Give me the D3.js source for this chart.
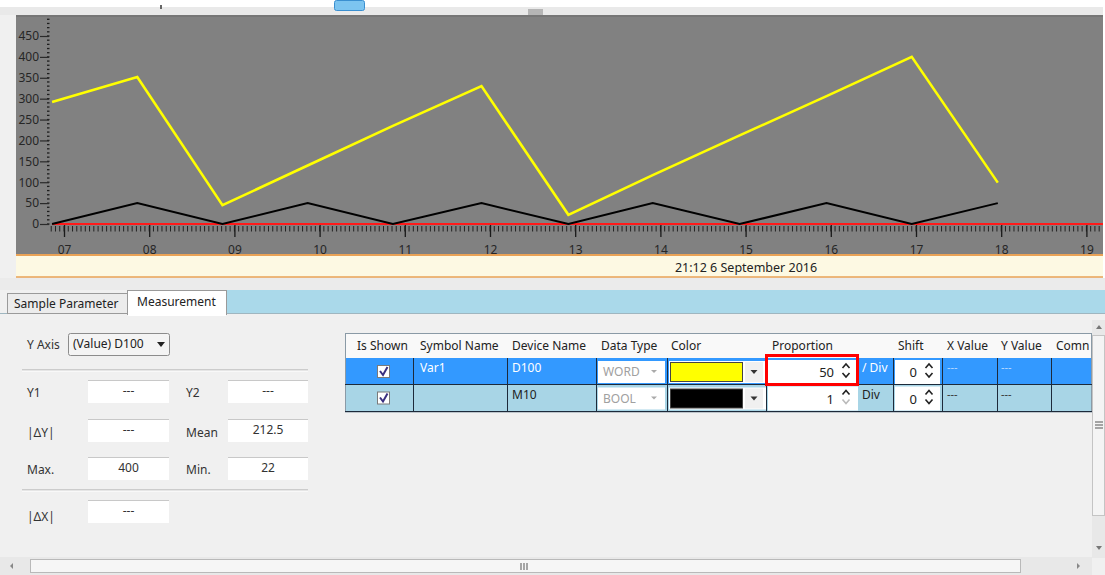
<!DOCTYPE html>
<html><head><meta charset="utf-8">
<script src="https://cdn.jsdelivr.net/npm/d3@7"></script>
<style>
html,body{margin:0;padding:0;background:#fff;overflow:hidden}
svg{display:block;font-family:"Noto Sans","Open Sans",sans-serif}
</style></head><body>
<svg id="c" width="1105" height="575"></svg>
<script>
// ---- data ----
const sampleSeconds = [6.86, 7.86, 8.86, 9.86, 10.86, 11.90, 12.92, 13.91, 14.93, 15.95, 16.95, 17.96]; // seconds after 21:12
const d100Values = [292, 352, 45, 140, 235, 330, 22, 117, 212, 306, 400, 99];
const m10Values = [0, 1, 0, 1, 0, 1, 0, 1, 0, 1, 0, 1];
const yTickValues = [0, 50, 100, 150, 200, 250, 300, 350, 400, 450];
const xTickSeconds = [7, 8, 9, 10, 11, 12, 13, 14, 15, 16, 17, 18, 19];
const xTickLabels = ["07", "08", "09", "10", "11", "12", "13", "14", "15", "16", "17", "18", "19"];
const dateLabel = "21:12 6 September 2016";
const tabLabels = ["Sample Parameter", "Measurement"];
const tableHeaders = ["Is Shown", "Symbol Name", "Device Name", "Data Type", "Color", "Proportion", "Shift", "X Value", "Y Value", "Comn"];
const symbolNames = ["Var1", ""];
const deviceNames = ["D100", "M10"];
const dataTypes = ["WORD", "BOOL"];
const seriesColors = ["#ffff00", "#000000"];
const proportions = [50, 1];
const proportionUnits = ["/ Div", "Div"];
const shifts = [0, 0];
const xValues = ["---", "---"];
const yValues = ["---", "---"];
const yAxisChoice = "(Value) D100";
const measureRows = [
  ["Y1", "---", "Y2", "---"],
  ["|\u0394Y|", "---", "Mean", "212.5"],
  ["Max.", "400", "Min.", "22"]
];
const deltaXRow = ["|\u0394X|", "---"];

// ---- drawing ----
const svg = d3.select("#c");
const FONT = 12;

// page backgrounds
svg.append("rect").attr("x",0).attr("y",0).attr("width",1105).attr("height",575).attr("fill","#f0f0f0");
svg.append("rect").attr("x",0).attr("y",0).attr("width",1105).attr("height",7).attr("fill","#ffffff");
svg.append("rect").attr("x",0).attr("y",7).attr("width",1105).attr("height",8).attr("fill","#e9e9e9");
svg.append("rect").attr("x",1103).attr("y",7).attr("width",2).attr("height",283).attr("fill","#ffffff");
// toolbar bits
svg.append("rect").attr("x",160).attr("y",5).attr("width",2).attr("height",4).attr("fill","#666");
svg.append("rect").attr("x",334.5).attr("y",0.5).attr("width",30).attr("height",10).attr("rx",2)
  .attr("fill","#7cc4f0").attr("stroke","#3a8fd0");
svg.append("rect").attr("x",528).attr("y",9).attr("width",15).attr("height",6).attr("fill","#b5b5b5");

// plot panel
const plotL = 16, plotR = 1103, plotT = 15, plotB = 254;
svg.append("rect").attr("x",plotL).attr("y",plotT).attr("width",plotR-plotL).attr("height",plotB-plotT).attr("fill","#818181");
svg.append("rect").attr("x",plotL).attr("y",plotT).attr("width",plotR-plotL).attr("height",2).attr("fill","#767676");

const x = d3.scaleLinear().domain([7, 19]).range([64, 1086.4]);
const y = d3.scaleLinear().domain([0, 450]).range([224, 36]);

// y axis: minor dots + major ticks
const yMinor = d3.range(0, 500, 10).filter(v => y(v) >= 17);
svg.append("g").selectAll("line").data(yMinor).join("line")
  .attr("x1",47).attr("x2",49.5).attr("y1",d=>y(d)).attr("y2",d=>y(d))
  .attr("stroke","#1e1e1e").attr("stroke-width",1.3);
const yAxisG = svg.append("g").attr("transform","translate(49,0)")
  .call(d3.axisLeft(y).tickValues(yTickValues).tickSize(9).tickPadding(1).tickFormat(d3.format("d")));
yAxisG.select(".domain").remove();
yAxisG.selectAll(".tick line").attr("stroke","#2a2a2a").attr("stroke-width",1.2);
yAxisG.selectAll(".tick text").attr("fill","#262626").attr("font-size",FONT).attr("font-family","Noto Sans, sans-serif");

// x axis minor ticks
const xMinor = d3.range(6.4, 19.3, 0.05).filter(s => x(s) >= 51 && x(s) <= plotR - 1);
svg.append("g").selectAll("line").data(xMinor).join("line")
  .attr("x1",d=>x(d)).attr("x2",d=>x(d)).attr("y1",226).attr("y2",231.5)
  .attr("stroke","#222").attr("stroke-width",1);
const xAxisG = svg.append("g").attr("transform","translate(0,225)")
  .call(d3.axisBottom(x).tickValues(xTickSeconds).tickSize(12).tickPadding(8)
    .tickFormat((d,i) => xTickLabels[i]));
xAxisG.select(".domain").remove();
xAxisG.selectAll(".tick line").attr("stroke","#1a1a1a").attr("stroke-width",1.3);
xAxisG.selectAll(".tick text").attr("fill","#262626").attr("font-size",FONT).attr("font-family","Noto Sans, sans-serif");

// red zero line
svg.append("line").attr("x1",52).attr("x2",plotR).attr("y1",y(0)).attr("y2",y(0))
  .attr("stroke","#ff1a1a").attr("stroke-width",2);

// series
const pts = sampleSeconds.map((s,i) => ({s, d:d100Values[i], m:m10Values[i] * proportions[0] / proportions[1]}));
const lineM = d3.line().x(p=>x(p.s)).y(p=>y(p.m));
const lineD = d3.line().x(p=>x(p.s)).y(p=>y(p.d));
svg.append("path").attr("d",lineM(pts)).attr("fill","none").attr("stroke",seriesColors[1]).attr("stroke-width",2).attr("stroke-linejoin","miter");
svg.append("path").attr("d",lineD(pts)).attr("fill","none").attr("stroke",seriesColors[0]).attr("stroke-width",2.6).attr("stroke-linejoin","miter");

// date band
svg.append("rect").attr("x",plotL).attr("y",254).attr("width",plotR-plotL).attr("height",23).attr("fill","#fdf9e3");
svg.append("line").attr("x1",plotL).attr("x2",plotR).attr("y1",255).attr("y2",255).attr("stroke","#e9a256").attr("stroke-width",2);
svg.append("line").attr("x1",plotL).attr("x2",plotR).attr("y1",277).attr("y2",277).attr("stroke","#e9a256").attr("stroke-width",1.5);
svg.append("text").attr("x",746).attr("y",271.5).attr("text-anchor","middle").attr("font-size",12.5).attr("fill","#222").text(dateLabel);

// tabs row
svg.append("rect").attr("x",0).attr("y",278).attr("width",1105).attr("height",12).attr("fill","#ebebeb");
svg.append("rect").attr("x",226).attr("y",290).attr("width",879).attr("height",23).attr("fill","#aad9ea");
svg.append("line").attr("x1",0).attr("x2",1105).attr("y1",313.5).attr("y2",313.5).attr("stroke","#9fb6c0");
svg.append("rect").attr("x",7.5).attr("y",293.5).attr("width",120).attr("height",20).attr("fill","#ececec").attr("stroke","#9a9a9a");
svg.append("rect").attr("x",127.5).attr("y",290.5).attr("width",99).attr("height",24).attr("fill","#ffffff").attr("stroke","#9a9a9a");
svg.append("rect").attr("x",128).attr("y",313).attr("width",98).attr("height",3).attr("fill","#ffffff");
svg.append("text").attr("x",14).attr("y",308).attr("font-size",12).attr("fill","#222").text(tabLabels[0]);
svg.append("text").attr("x",137).attr("y",306).attr("font-size",12).attr("fill","#222").text(tabLabels[1]);

// left measurement panel
svg.append("text").attr("x",27).attr("y",349).attr("font-size",12).attr("fill","#333").text("Y Axis");
svg.append("rect").attr("x",68.5).attr("y",333.5).attr("width",101).attr("height",22).attr("rx",2).attr("fill","#f4f4f4").attr("stroke","#8c8c8c");
svg.append("text").attr("x",73).attr("y",348).attr("font-size",12).attr("fill","#222").text(yAxisChoice);
svg.append("path").attr("d","M157,342 L165,342 L161,347 Z").attr("fill","#222");
function sep(yy){
  svg.append("line").attr("x1",22).attr("x2",308).attr("y1",yy).attr("y2",yy).attr("stroke","#a8a8a8");
  svg.append("line").attr("x1",22).attr("x2",308).attr("y1",yy+1).attr("y2",yy+1).attr("stroke","#fff");
}
sep(370); sep(490);
function field(bx, by, w, val){
  svg.append("rect").attr("x",bx).attr("y",by).attr("width",w).attr("height",23).attr("fill","#ffffff");
  svg.append("line").attr("x1",bx).attr("x2",bx+w).attr("y1",by+0.5).attr("y2",by+0.5).attr("stroke","#c8c8c8");
  svg.append("text").attr("x",bx+w/2).attr("y",by+15).attr("text-anchor","middle").attr("font-size",12).attr("fill","#333").text(val);
}
const rowY = [380, 419, 457];
const labY = [397, 437, 474];
measureRows.forEach((r,i)=>{
  svg.append("text").attr("x",27).attr("y",labY[i]).attr("font-size",12).attr("fill","#333").text(r[0]);
  field(88, rowY[i], 81, r[1]);
  svg.append("text").attr("x",186).attr("y",labY[i]).attr("font-size",12).attr("fill","#333").text(r[2]);
  field(228, rowY[i], 80, r[3]);
});
svg.append("text").attr("x",27).attr("y",521).attr("font-size",12).attr("fill","#333").text(deltaXRow[0]);
field(88, 500, 81, deltaXRow[1]);

// table
const colX = [345, 413, 507, 596, 667, 766, 893, 942, 997, 1051, 1092];
const tTop = 333, hdrB = 358, r1B = 384.5, r2B = 411.5;
svg.append("rect").attr("x",345).attr("y",tTop).attr("width",747).attr("height",hdrB-tTop).attr("fill","#f9f9f9");
svg.append("rect").attr("x",345).attr("y",hdrB).attr("width",747).attr("height",r1B-hdrB).attr("fill","#3399ff");
svg.append("rect").attr("x",345).attr("y",r1B).attr("width",747).attr("height",r2B-r1B).attr("fill","#a8d5e6");
svg.append("rect").attr("x",345.5).attr("y",tTop+0.5).attr("width",746).attr("height",r2B-tTop).attr("fill","none").attr("stroke","#8a9aa6");
const hdrX = [357, 420, 512, 601, 671, 772, 898, 947, 1001, 1056];
svg.append("defs").append("clipPath").attr("id","tclip").append("rect").attr("x",345).attr("y",tTop).attr("width",747).attr("height",80);
const tg = svg.append("g").attr("clip-path","url(#tclip)");
tableHeaders.forEach((h,i)=>{
  tg.append("text").attr("x",hdrX[i]).attr("y",350).attr("font-size",12).attr("fill","#222").text(h);
});
// grid lines in body rows
colX.slice(1,-1).forEach(cx=>{
  svg.append("line").attr("x1",cx+0.5).attr("x2",cx+0.5).attr("y1",hdrB).attr("y2",r2B).attr("stroke","#1d2a3a").attr("stroke-width",1);
});
svg.append("line").attr("x1",345).attr("x2",1092).attr("y1",r1B).attr("y2",r1B).attr("stroke","#1d2a3a");
svg.append("line").attr("x1",345).attr("x2",1092).attr("y1",r2B).attr("y2",r2B).attr("stroke","#1d2a3a");

function spinner(cx, top, faintDown){
  svg.append("path").attr("d",`M${cx-3.5},${top+4} L${cx},${top} L${cx+3.5},${top+4}`).attr("fill","none").attr("stroke","#222").attr("stroke-width",1.6);
  svg.append("path").attr("d",`M${cx-3.5},${top+9} L${cx},${top+13} L${cx+3.5},${top+9}`).attr("fill","none").attr("stroke",faintDown?"#bbb":"#222").attr("stroke-width",1.6);
}
const rowTops = [hdrB, r1B];
[0,1].forEach(i=>{
  const t = rowTops[i];
  const dark = i===1;
  const txt = dark ? "#222" : "#ffffff";
  // checkbox
  svg.append("rect").attr("x",377.5).attr("y",t+7.5).attr("width",12).attr("height",12).attr("fill","#fff").attr("stroke","#7a7a7a");
  svg.append("path").attr("d",`M380,${t+13} L383,${t+17} L387.5,${t+9}`).attr("fill","none").attr("stroke","#3a2f80").attr("stroke-width",2);
  svg.append("text").attr("x",420).attr("y",t+14).attr("font-size",12).attr("fill",txt).text(symbolNames[i]);
  svg.append("text").attr("x",512).attr("y",t+14).attr("font-size",12).attr("fill",txt).text(deviceNames[i]);
  // data type combo
  svg.append("rect").attr("x",598).attr("y",t+3).attr("width",67).attr("height",22).attr("fill","#fff");
  svg.append("text").attr("x",603).attr("y",t+18).attr("font-size",12).attr("fill","#a0a0a0").text(dataTypes[i]);
  svg.append("path").attr("d",`M651,${t+12} L657,${t+12} L654,${t+15} Z`).attr("fill","#aaa");
  // color
  svg.append("rect").attr("x",669).attr("y",t+3).attr("width",97).attr("height",22).attr("fill","#fff");
  svg.append("rect").attr("x",670.5).attr("y",t+4.5).attr("width",72).attr("height",19).attr("fill",seriesColors[i]).attr("stroke","#444");
  svg.append("rect").attr("x",745).attr("y",t+4).attr("width",18).attr("height",20).attr("fill","#f0f0f0");
  svg.append("path").attr("d",`M750.5,${t+12} L757.5,${t+12} L754,${t+16} Z`).attr("fill","#333");
  // proportion
  svg.append("rect").attr("x",768).attr("y",t+2).attr("width",90).attr("height",24).attr("fill","#fff");
  svg.append("text").attr("x", 834).attr("y",t+19).attr("text-anchor","end").attr("font-size",13).attr("fill","#222").text(proportions[i]);
  spinner(846, t+6, dark);
  svg.append("text").attr("x",862).attr("y",t+14).attr("font-size",12).attr("fill",txt).text(proportionUnits[i]);
  // shift
  svg.append("rect").attr("x",895).attr("y",t+2).attr("width",45).attr("height",24).attr("fill","#fff");
  svg.append("text").attr("x",917).attr("y",t+19).attr("text-anchor","end").attr("font-size",13).attr("fill","#222").text(shifts[i]);
  spinner(929, t+6, false);
  svg.append("text").attr("x",947).attr("y",t+13).attr("font-size",11).attr("fill",dark?"#333":"#b9d9ff").text(xValues[i]);
  svg.append("text").attr("x",1001).attr("y",t+13).attr("font-size",11).attr("fill",dark?"#333":"#b9d9ff").text(yValues[i]);
});
// red highlight around proportion cell
svg.append("rect").attr("x",766.5).attr("y",355.5).attr("width",91).attr("height",29).attr("fill","none").attr("stroke","#ff0000").attr("stroke-width",3);

// vertical scrollbar
svg.append("rect").attr("x",1092).attr("y",320).attr("width",13).attr("height",238).attr("fill","#e8e8e8");
svg.append("rect").attr("x",1092.5).attr("y",335.5).attr("width",12).attr("height",180).attr("fill","#f4f4f4").attr("stroke","#c4c4c4");
svg.append("path").attr("d","M1096,329 L1102,329 L1099,325 Z").attr("fill","#777");
svg.append("path").attr("d","M1096,546 L1102,546 L1099,550 Z").attr("fill","#777");
[422,425,428].forEach(yy=>svg.append("line").attr("x1",1095).attr("x2",1103).attr("y1",yy).attr("y2",yy).attr("stroke","#555"));

// horizontal scrollbar
svg.append("rect").attr("x",0).attr("y",557).attr("width",1092).attr("height",18).attr("fill","#e8e8e8");
svg.append("rect").attr("x",30.5).attr("y",559.5).attr("width",990).attr("height",13).attr("fill","#f6f6f6").attr("stroke","#b9b9b9");
[521,524,527].forEach(xx=>svg.append("line").attr("x1",xx).attr("x2",xx).attr("y1",563).attr("y2",570).attr("stroke","#555"));
svg.append("path").attr("d","M13,563 L13,569 L10,566 Z").attr("fill","#888");
svg.append("path").attr("d","M1077,563 L1077,569 L1080,566 Z").attr("fill","#888");
</script></body></html>
